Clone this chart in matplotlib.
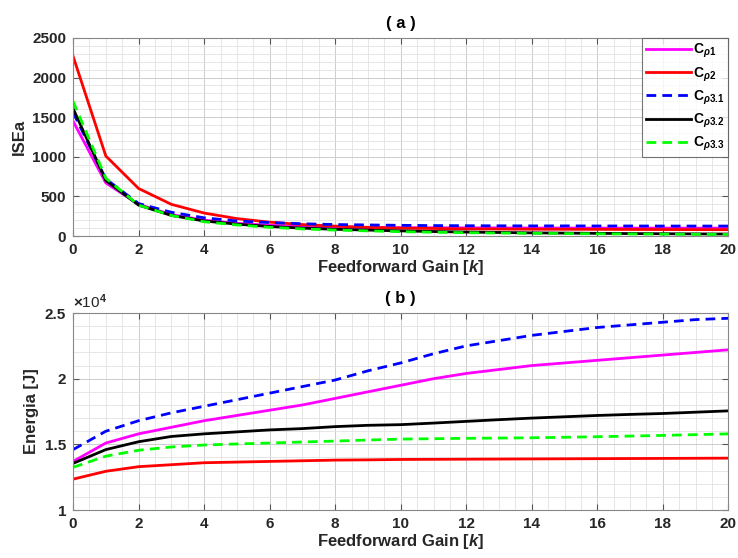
import numpy as np
import matplotlib
matplotlib.use("Agg")
import matplotlib.pyplot as plt
from matplotlib.ticker import MultipleLocator

plt.rcParams['font.family'] = 'Liberation Sans'
plt.rcParams['font.weight'] = 'bold'
plt.rcParams['mathtext.fontset'] = 'custom'
plt.rcParams['mathtext.it'] = 'Liberation Sans:bold:italic'
plt.rcParams['mathtext.rm'] = 'Liberation Sans:bold'
plt.rcParams['mathtext.bf'] = 'Liberation Sans:bold'

# ganancia feedforward
k = np.arange(0, 21)

etiquetas = [r'C$_{\rho 1}$', r'C$_{\rho 2}$', r'C$_{\rho 3.1}$', r'C$_{\rho 3.2}$', r'C$_{\rho 3.3}$']

# (a) ISEa
ise_cp1 = [1450, 670, 400, 270, 200, 160, 135, 120, 112, 108, 105, 104, 103, 102, 101, 101, 100, 100, 100, 100, 100]
ise_cp2 = [2270, 1010, 600, 400, 290, 220, 175, 145, 125, 110, 100, 95, 90, 88, 86, 85, 84, 83, 82, 81, 80]
ise_cp31 = [1560, 720, 410, 300, 230, 190, 170, 155, 145, 140, 135, 132, 130, 129, 128, 128, 127, 127, 126, 126, 126]
ise_cp32 = [1610, 700, 390, 260, 190, 150, 120, 100, 85, 75, 65, 57, 50, 45, 40, 37, 34, 31, 29, 27, 25]
ise_cp33 = [1700, 730, 390, 260, 180, 140, 110, 90, 75, 65, 55, 48, 42, 38, 34, 31, 28, 26, 24, 22, 20]

# (b) Energia (x1e4)
en_cp1 = [1.37, 1.51, 1.58, 1.63, 1.68, 1.72, 1.76, 1.80, 1.85, 1.90, 1.95, 2.00, 2.04, 2.07, 2.10, 2.12, 2.14, 2.16, 2.18, 2.20, 2.22]
en_cp2 = [1.235, 1.295, 1.33, 1.345, 1.36, 1.365, 1.37, 1.375, 1.38, 1.382, 1.385, 1.386, 1.387, 1.388, 1.389, 1.39, 1.391, 1.392, 1.393, 1.394, 1.395]
en_cp31 = [1.46, 1.60, 1.68, 1.74, 1.79, 1.84, 1.89, 1.94, 1.99, 2.06, 2.12, 2.19, 2.25, 2.29, 2.33, 2.36, 2.39, 2.41, 2.43, 2.45, 2.46]
en_cp32 = [1.355, 1.46, 1.52, 1.56, 1.58, 1.595, 1.61, 1.62, 1.635, 1.645, 1.65, 1.662, 1.675, 1.688, 1.70, 1.71, 1.72, 1.728, 1.735, 1.745, 1.755]
en_cp33 = [1.325, 1.41, 1.455, 1.48, 1.495, 1.503, 1.51, 1.518, 1.525, 1.533, 1.54, 1.543, 1.546, 1.548, 1.55, 1.554, 1.558, 1.563, 1.568, 1.574, 1.58]

estilos = [('#ff00ff', '-'), ('#ff0000', '-'), ('#0000ff', (0, (3.5, 2.2))), ('#000000', '-'), ('#00ff00', (0, (3.5, 2.2)))]

fig = plt.figure(figsize=(7.38, 5.58), dpi=100)
ax1 = fig.add_axes([0.099, 0.577, 0.888, 0.355])
ax2 = fig.add_axes([0.099, 0.086, 0.888, 0.353])


def formato(ax):
    ax.set_xlim(0, 20)
    ax.xaxis.set_major_locator(MultipleLocator(2))
    ax.xaxis.set_minor_locator(MultipleLocator(0.5))
    ax.grid(which='major', color='#cccccc', linewidth=0.7)
    ax.grid(which='minor', color='#e2e2e2', linewidth=0.6)
    ax.set_axisbelow(True)
    ax.tick_params(which='both', direction='in', top=True, right=True, labelsize=11, colors='#262626')
    ax.tick_params(which='minor', length=0)
    ax.tick_params(which='major', length=4, color='#555555', pad=5)
    for s in ax.spines.values():
        s.set_color('#888888')
        s.set_linewidth(0.8)
    for lb in ax.get_xticklabels() + ax.get_yticklabels():
        lb.set_fontweight('bold')
    ax.set_xlabel(r'Feedforward Gain [$\mathit{k}$]', fontsize=12, fontweight='bold', color='#262626', labelpad=1)


series_a = [ise_cp1, ise_cp2, ise_cp31, ise_cp32, ise_cp33]
for y, (c, ls), lab in zip(series_a, estilos, etiquetas):
    ax1.plot(k, y, color=c, linestyle=ls, linewidth=2, label=lab)
ax1.set_ylim(0, 2500)
ax1.yaxis.set_major_locator(MultipleLocator(500))
ax1.yaxis.set_minor_locator(MultipleLocator(100))
formato(ax1)
ax1.set_ylabel('ISEa', fontsize=12, fontweight='bold', color='#262626')
ax1.set_title('( a )', fontsize=12, fontweight='bold', pad=7)
leg = ax1.legend(loc='upper right', fontsize=10, frameon=True, fancybox=False,
                 borderaxespad=0, handlelength=3.2, handletextpad=0.15, labelspacing=0.35,
                 borderpad=0.3)
leg.get_frame().set_edgecolor('#555555')
leg.get_frame().set_linewidth(0.8)

series_b = [en_cp1, en_cp2, en_cp31, en_cp32, en_cp33]
for y, (c, ls) in zip(series_b, estilos):
    ax2.plot(k, np.array(y) * 1e4, color=c, linestyle=ls, linewidth=2)
ax2.set_ylim(1e4, 2.5e4)
ax2.yaxis.set_minor_locator(MultipleLocator(1000))
ax2.set_yticks([1e4, 1.5e4, 2e4, 2.5e4])
ax2.set_yticklabels(['1', '1.5', '2', '2.5'])
formato(ax2)
ax2.set_ylabel('Energia [J]', fontsize=12, fontweight='bold', color='#262626')
ax2.set_title('( b )', fontsize=12, fontweight='bold', pad=7)
ax2.text(0.0, 1.01, r'$\times$10$^{4}$', transform=ax2.transAxes, fontsize=11,
         color='#262626', fontweight='normal', ha='left', va='bottom')

fig.savefig('out.png', dpi=100)
